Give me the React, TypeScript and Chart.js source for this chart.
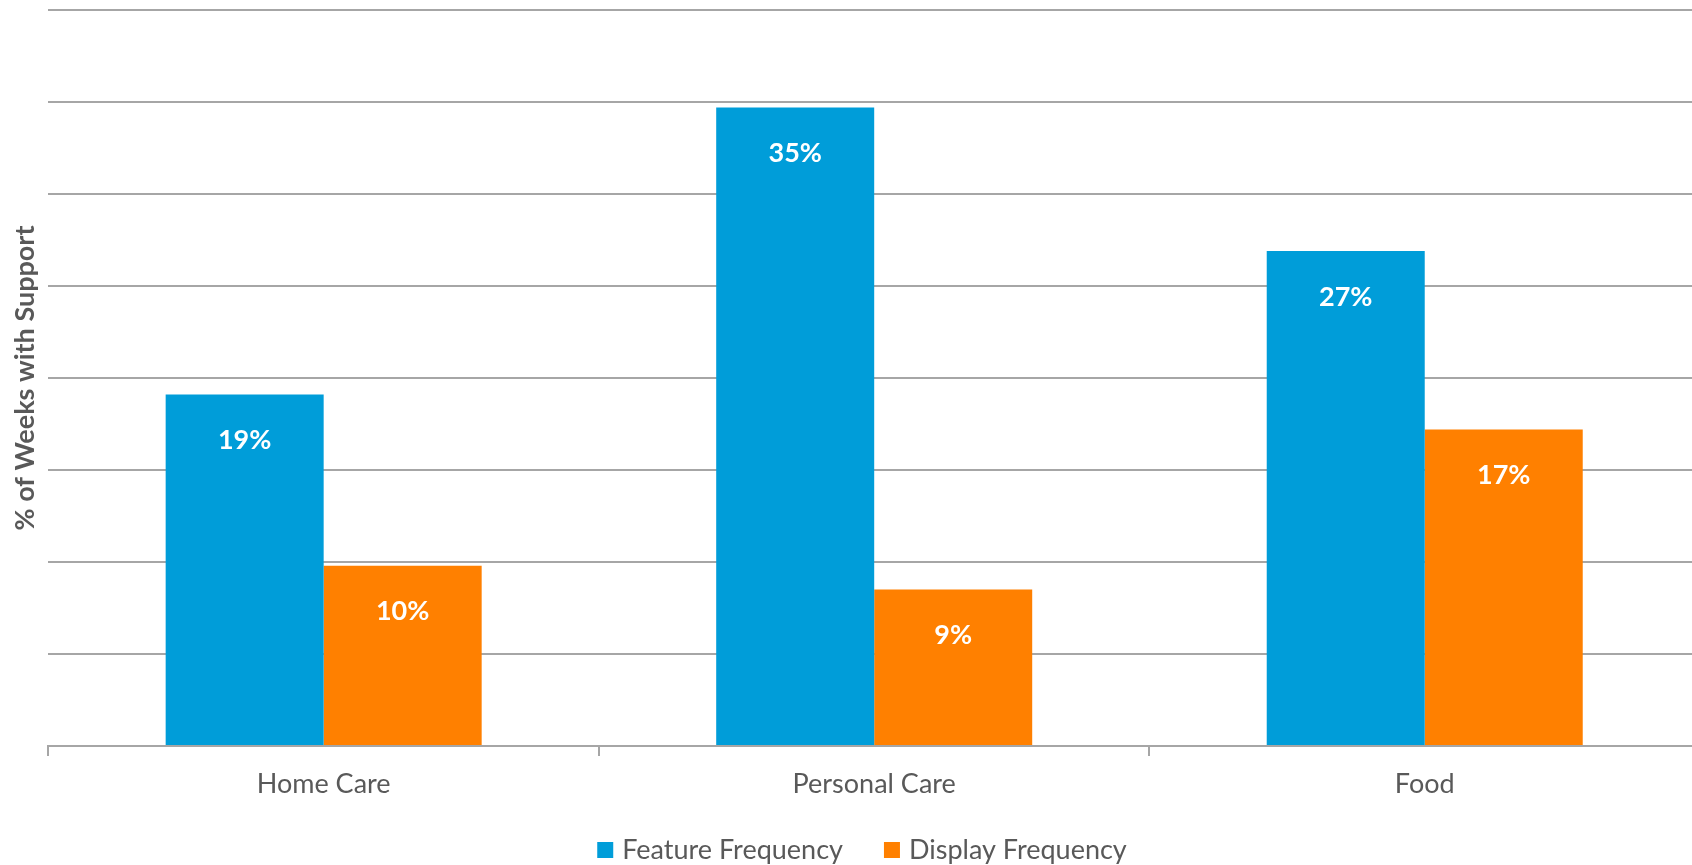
import React, { useEffect, useRef } from "react";
import { Chart, registerables } from "chart.js";

Chart.register(...registerables);

const categories = ["Home Care", "Personal Care", "Food"];
const seriesNames = ["Feature Frequency", "Display Frequency"];
const featureFrequency = [19.1, 34.7, 26.9];
const displayFrequency = [9.8, 8.5, 17.2];
const yMin = 0;
const yMax = 40;
const yStep = 5;
const yTitle = "% of Weeks with Support";

const BLUE = "#009DD9";
const ORANGE = "#FF8000";
const TEXT = "#595959";
const GRID = "#A6A6A6";
const FONT = "Lato, 'Open Sans', sans-serif";

const barLabels = {
  id: "barLabels",
  afterDatasetsDraw(chart: any) {
    const ctx = chart.ctx;
    ctx.save();
    ctx.fillStyle = "#FFFFFF";
    ctx.font = `bold 27px ${FONT}`;
    ctx.textAlign = "center";
    ctx.textBaseline = "middle";
    chart.data.datasets.forEach((ds: any, di: number) => {
      const meta = chart.getDatasetMeta(di);
      meta.data.forEach((bar: any, i: number) => {
        const v = ds.data[i];
        ctx.fillText(`${Math.round(v)}%`, bar.x, bar.y + 46);
      });
    });
    ctx.restore();
  },
};

// Bottom legend drawn on the canvas (box + label per dataset)
const bottomLegend = {
  id: "bottomLegend",
  afterDraw(chart: any) {
    const ctx = chart.ctx;
    const box = 16;
    const boxGap = 9;
    const itemGap = 41;
    ctx.save();
    ctx.font = `27px ${FONT}`;
    ctx.textBaseline = "middle";
    ctx.textAlign = "left";
    const items = chart.data.datasets.map((ds: any) => ({
      text: ds.label,
      color: ds.backgroundColor,
      w: ctx.measureText(ds.label).width,
    }));
    const total =
      items.reduce((s: number, it: any) => s + box + boxGap + it.w, 0) +
      itemGap * (items.length - 1);
    const cy = chart.height - 15;
    let x = chart.width / 2 + 12 - total / 2;
    items.forEach((it: any) => {
      ctx.fillStyle = it.color;
      ctx.fillRect(x, cy - box / 2, box, box);
      ctx.fillStyle = TEXT;
      ctx.fillText(it.text, x + box + boxGap, cy);
      x += box + boxGap + it.w + itemGap;
    });
    ctx.restore();
  },
};

export default function App() {
  const canvasRef = useRef<HTMLCanvasElement | null>(null);

  useEffect(() => {
    if (!canvasRef.current) return;
    const chart = new Chart(canvasRef.current, {
      type: "bar",
      data: {
        labels: categories,
        datasets: [
          {
            label: seriesNames[0],
            data: featureFrequency,
            backgroundColor: BLUE,
            borderWidth: 0,
            barPercentage: 1,
            categoryPercentage: 0.574,
          },
          {
            label: seriesNames[1],
            data: displayFrequency,
            backgroundColor: ORANGE,
            borderWidth: 0,
            barPercentage: 1,
            categoryPercentage: 0.574,
          },
        ],
      },
      options: {
        animation: false,
        responsive: true,
        maintainAspectRatio: false,
        layout: { padding: { top: 10, left: 0, right: 0, bottom: 52.6 } },
        plugins: {
          legend: { display: false },
          tooltip: { enabled: false },
        },
        scales: {
          x: {
            grid: {
              drawOnChartArea: false,
              drawTicks: true,
              tickLength: 10,
              color: GRID,
              lineWidth: 2,
            },
            border: { display: true, color: GRID, width: 2 },
            ticks: {
              color: TEXT,
              padding: 12,
              font: { family: FONT, size: 27 },
            },
          },
          y: {
            min: yMin,
            max: yMax,
            ticks: { display: false, stepSize: yStep },
            grid: { color: GRID, lineWidth: 2, drawTicks: false },
            border: { display: false },
            title: {
              display: true,
              text: yTitle,
              color: TEXT,
              padding: { top: 9, bottom: 7 },
              font: { family: FONT, size: 27, weight: "bold" },
            },
          },
        },
      },
      plugins: [barLabels, bottomLegend],
    });
    return () => chart.destroy();
  }, []);

  return (
    <div style={{ position: "absolute", left: 0, top: 0, width: 1692, height: 865, overflow: "hidden" }}>
      <div style={{ position: "relative", width: 1700, height: 865 }}>
        <canvas ref={canvasRef} />
      </div>
    </div>
  );
}
